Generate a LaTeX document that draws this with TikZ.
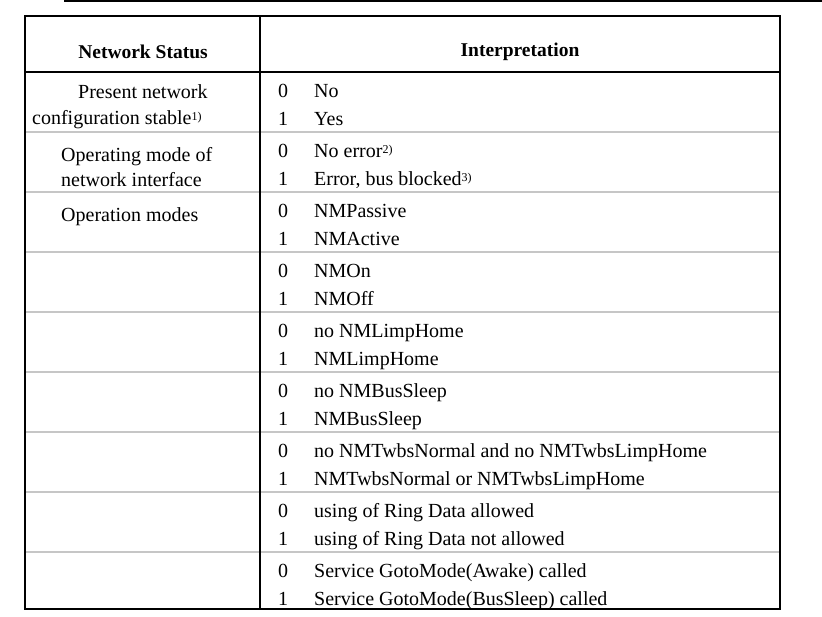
\documentclass[tikz,border=0pt]{standalone}
\usepackage{fontspec}
\setmainfont{Liberation Serif}
\usetikzlibrary{positioning}
\tikzset{
  cell/.style={inner sep=0pt, anchor=base west, font=\fontsize{20}{22}\selectfont},
  bit/.style={inner sep=0pt, anchor=base, font=\fontsize{20}{22}\selectfont},
  head/.style={inner sep=0pt, font=\fontsize{19.5}{22}\selectfont\bfseries},
  rowsep/.style={gray!45, line width=1.5pt},
}
\newcommand{\fn}[1]{\raisebox{4pt}{\fontsize{12}{12}\selectfont #1}}
\begin{document}
\begin{tikzpicture}[x=1pt,y=-1pt]
  % ---------------------
  % Proper size --- Bounding box
  \useasboundingbox (0,0) rectangle (822,616);
  \draw[line width=1.5pt] (64,1) -- (822,1);

  % ---------------------
  % Frame
  \coordinate (TL) at (25,16);
  \coordinate (BR) at (780,609);
  \foreach \y in {132,192,252,312,372,432,492,552}
    \draw[rowsep] (26,\y) -- (779,\y);
  \draw[line width=1.8pt] (TL) rectangle (BR);
  \draw[line width=1.8pt] (25,72) -- (780,72);
  \draw[line width=1.8pt] (260,16) -- (260,609);

  % ---------------------
  % Header
  \node[head] (hStatus) at (143,52) {Network Status};
  \node[head] (hInterp) at (520,52) {Interpretation};

  % ---------------------
  % Left column
  \node[cell] (s1a) at (78,98) {Present network};
  \node[cell] (s1b) at (32,124) {configuration stable\fn{1)}};
  \node[cell] (s2a) at (61,161) {Operating mode of};
  \node[cell] (s2b) at (61,186) {network interface};
  \node[cell] (s3a) at (61,221) {Operation modes};

  % ---------------------
  % Right column
  \foreach \top [count=\i] in {72,132,192,252,312,372,432,492,552} {
    \node[bit] (z\i) at (283,\top+25) {0};
    \node[bit] (o\i) at (283,\top+53) {1};
  }
  \node[cell] (t1a) at (314,97) {No};
  \node[cell] (t1b) at (314,125) {Yes};
  \node[cell] (t2a) at (314,157) {No error\fn{2)}};
  \node[cell] (t2b) at (314,185) {Error, bus blocked\fn{3)}};
  \node[cell] (t3a) at (314,217) {NMPassive};
  \node[cell] (t3b) at (314,245) {NMActive};
  \node[cell] (t4a) at (314,277) {NMOn};
  \node[cell] (t4b) at (314,305) {NMOff};
  \node[cell] (t5a) at (314,337) {no NMLimpHome};
  \node[cell] (t5b) at (314,365) {NMLimpHome};
  \node[cell] (t6a) at (314,397) {no NMBusSleep};
  \node[cell] (t6b) at (314,425) {NMBusSleep};
  \node[cell] (t7a) at (314,457) {no NMTwbsNormal and no NMTwbsLimpHome};
  \node[cell] (t7b) at (314,485) {NMTwbsNormal or NMTwbsLimpHome};
  \node[cell] (t8a) at (314,517) {using of Ring Data allowed};
  \node[cell] (t8b) at (314,545) {using of Ring Data not allowed};
  \node[cell] (t9a) at (314,577) {Service GotoMode(Awake) called};
  \node[cell] (t9b) at (314,605) {Service GotoMode(BusSleep) called};
\end{tikzpicture}
\end{document}
